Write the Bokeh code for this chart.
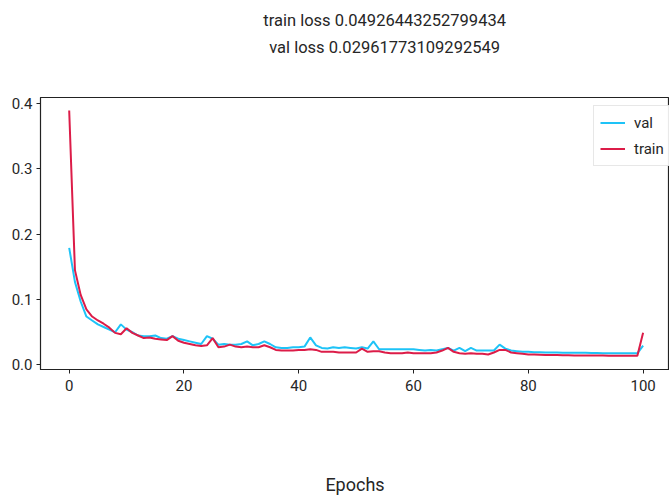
from bokeh.plotting import figure
from bokeh.layouts import column
from bokeh.models import Range1d, FixedTicker, Legend, LegendItem, CustomJSTickFormatter
from bokeh.core.properties import value
from bokeh.embed import file_html
from bokeh.resources import INLINE

epochs = list(range(101))
train = [0.389, 0.145, 0.107, 0.085, 0.074, 0.068, 0.063, 0.057, 0.049, 0.047,
         0.056, 0.049, 0.045, 0.041, 0.042, 0.040, 0.039, 0.038, 0.044, 0.037,
         0.034, 0.032, 0.030, 0.029, 0.030, 0.041, 0.027, 0.028, 0.031, 0.028,
         0.027, 0.028, 0.027, 0.027, 0.030, 0.027, 0.023, 0.022, 0.022, 0.022,
         0.023, 0.023, 0.024, 0.023, 0.020, 0.020, 0.020, 0.019, 0.019, 0.019,
         0.019, 0.025, 0.020, 0.021, 0.021, 0.019, 0.018, 0.018, 0.018, 0.019,
         0.018, 0.018, 0.018, 0.018, 0.019, 0.022, 0.026, 0.020, 0.018, 0.017,
         0.018, 0.017, 0.017, 0.016, 0.019, 0.023, 0.023, 0.019, 0.018, 0.017,
         0.016, 0.0158, 0.0155, 0.0152, 0.015, 0.015, 0.0148, 0.0147, 0.0146, 0.0145,
         0.0145, 0.0144, 0.0143, 0.0143, 0.0142, 0.0142, 0.0141, 0.0141, 0.014, 0.014,
         0.04926443252799434]
val = [0.179, 0.127, 0.097, 0.074, 0.068, 0.062, 0.058, 0.054, 0.050, 0.062,
       0.054, 0.050, 0.045, 0.044, 0.044, 0.045, 0.041, 0.040, 0.044, 0.040,
       0.038, 0.036, 0.034, 0.032, 0.044, 0.040, 0.031, 0.032, 0.031, 0.031,
       0.032, 0.036, 0.030, 0.032, 0.036, 0.032, 0.027, 0.026, 0.026, 0.027,
       0.027, 0.028, 0.042, 0.030, 0.026, 0.025, 0.027, 0.026, 0.027, 0.026,
       0.025, 0.027, 0.025, 0.036, 0.024, 0.024, 0.024, 0.024, 0.024, 0.024,
       0.024, 0.023, 0.022, 0.023, 0.022, 0.024, 0.026, 0.022, 0.026, 0.021,
       0.026, 0.022, 0.022, 0.022, 0.022, 0.031, 0.025, 0.022, 0.021, 0.020,
       0.020, 0.0195, 0.0195, 0.019, 0.019, 0.019, 0.0188, 0.0188, 0.0186, 0.0185,
       0.0185, 0.0183, 0.0182, 0.018, 0.018, 0.018, 0.0178, 0.0178, 0.0177, 0.0177,
       0.02961773109292549]
x_ticks = [0, 20, 40, 60, 80, 100]
y_ticks = [0.0, 0.1, 0.2, 0.3, 0.4]
title_lines = ["train loss 0.04926443252799434", "val loss 0.02961773109292549"]

FONT = "Roboto"
TXT = "#262626"

# ---- title strip (text only, pixel coordinates) ----
head = figure(width=669, height=96, output_backend="svg", toolbar_location=None,
              x_range=Range1d(0, 669), y_range=Range1d(0, 96),
              x_axis_location=None, y_axis_location=None, min_border=0)
head.grid.visible = False
head.outline_line_color = None
head.background_fill_color = "white"
head.border_fill_color = "white"
head.text(x=[366, 366], y=[76, 49], text=title_lines,
          text_align="center", text_baseline="middle",
          text_font=value(FONT), text_font_size="16.5px", text_color=TXT)

# ---- main chart ----
p = figure(width=669, height=401, output_backend="svg", toolbar_location=None,
           x_range=Range1d(-5, 104.6), y_range=Range1d(-0.007, 0.409),
           min_border_left=40, min_border_right=0, min_border_top=1, min_border_bottom=128)
p.background_fill_color = "white"
p.border_fill_color = "white"
p.grid.visible = False
p.outline_line_color = "#222222"
p.outline_line_width = 1.2

r_val = p.line(epochs, val, line_color="#1ec3f7", line_width=2)
r_train = p.line(epochs, train, line_color="#dc1c48", line_width=2)

for ax in (p.xaxis[0], p.yaxis[0]):
    ax.axis_line_color = "#222222"
    ax.major_tick_line_color = "#222222"
    ax.major_tick_out = 4
    ax.major_tick_in = 0
    ax.minor_tick_line_color = None
    ax.major_label_text_font = FONT
    ax.major_label_text_font_size = "15px"
    ax.major_label_text_color = TXT

p.xaxis.ticker = FixedTicker(ticks=x_ticks)
p.yaxis.ticker = FixedTicker(ticks=y_ticks)
p.yaxis.formatter = CustomJSTickFormatter(code="return tick.toFixed(1);")
p.yaxis.major_label_standoff = 4
p.xaxis.major_label_standoff = 6
p.xaxis.axis_label = "Epochs"
p.xaxis.axis_label_text_font = FONT
p.xaxis.axis_label_text_font_size = "18px"
p.xaxis.axis_label_text_font_style = "normal"
p.xaxis.axis_label_text_color = TXT
p.xaxis.axis_label_standoff = 80

legend = Legend(items=[LegendItem(label="val", renderers=[r_val]),
                       LegendItem(label="train", renderers=[r_train])],
                location=(553, 203), margin=0,
                label_text_font=FONT, label_text_font_size="15px", label_text_color=TXT,
                glyph_width=25, glyph_height=21, label_height=21, spacing=5,
                padding=6, label_standoff=9,
                border_line_color="#d0d0d0", border_line_width=1,
                background_fill_alpha=0.9)
p.add_layout(legend, "center")

layout = column(head, p, spacing=0)
open("out.html", "w").write(file_html(layout, INLINE))
